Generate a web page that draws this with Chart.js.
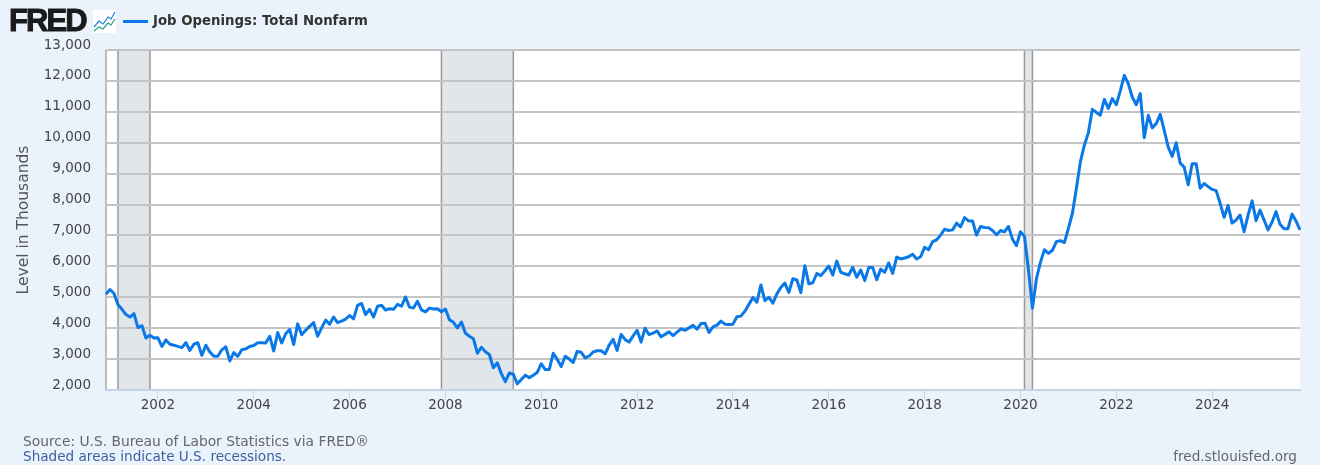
<!DOCTYPE html>
<html lang="en">
<head>
    <meta charset="UTF-8">
    <title>Job Openings: Total Nonfarm</title>
    <script src="https://cdn.jsdelivr.net/npm/chart.js"></script>
    <style>
        html, body { margin: 0; padding: 0; background: #eaf3fb; overflow: hidden; }
        #wrap { position: relative; width: 1320px; height: 465px; font-family: "DejaVu Sans", Verdana, sans-serif; }
        canvas { position: absolute; left: 0; top: 0; }
        .abs { position: absolute; white-space: nowrap; }
        #logo { left: 9px; top: 3px; font: bold 31px/36px "Liberation Sans", Arial, sans-serif; letter-spacing: -1.9px; color: #1a1a1a; -webkit-text-stroke: 1px #1a1a1a; }
        #icon { left: 93px; top: 10px; }
        #legendLine { left: 123px; top: 20px; width: 25px; height: 3px; background: #0a78e6; }
        #legendText { left: 153px; top: 13px; font-size: 13.3px; line-height: 16px; font-weight: bold; color: #333; }
        .foot { font-size: 13.8px; line-height: 16px; }
    </style>
</head>
<body>
<div id="wrap">
    <canvas id="chart" width="1320" height="465"></canvas>
    <div class="abs" id="logo">FRED</div>
    <svg class="abs" id="icon" width="23" height="23" viewBox="0 0 23 23">
        <rect width="23" height="23" fill="#fff"/>
        <polyline points="1,17 6,11 10,14 15,7 18,9 22,2" fill="none" stroke="#1a7fe0" stroke-width="1.2"/>
        <polyline points="1,21 6,17 10,19 15,13 18,15 22,9" fill="none" stroke="#1f9e86" stroke-width="1.2"/>
    </svg>
    <div class="abs" id="legendLine"></div>
    <div class="abs" id="legendText">Job Openings: Total Nonfarm</div>
    <div class="abs foot" style="left:23px;top:433px;color:#666">Source: U.S. Bureau of Labor Statistics via FRED®</div>
    <div class="abs foot" style="left:23px;top:448px;color:#3e5f9e;font-size:13.6px">Shaded areas indicate U.S. recessions.</div>
    <div class="abs foot" style="right:23px;top:448px;color:#666;font-size:13.6px">fred.stlouisfed.org</div>
</div>
<script>
    // monthly, Dec 2000 to Nov 2025
    const openings = [
        5100,
        5250, 5120, 4760, 4610, 4440, 4360, 4470, 4020, 4080, 3680, 3770, 3680,
        3690, 3410, 3620, 3480, 3450, 3410, 3370, 3530, 3280, 3480, 3530, 3120,
        3450, 3230, 3090, 3090, 3300, 3400, 2940, 3210, 3090, 3300, 3330, 3410,
        3440, 3530, 3530, 3520, 3740, 3260, 3860, 3520, 3820, 3960, 3470, 4140,
        3790, 3930, 4060, 4180, 3740, 4010, 4260, 4130, 4360, 4180, 4230, 4290,
        4410, 4300, 4740, 4800, 4440, 4610, 4360, 4710, 4740, 4590, 4630, 4610,
        4770, 4710, 5010, 4680, 4650, 4870, 4590, 4530, 4650, 4620, 4630, 4530,
        4620, 4270, 4190, 4010, 4200, 3840, 3740, 3660, 3190, 3380, 3240, 3150,
        2720, 2880, 2530, 2270, 2550, 2510, 2200, 2340, 2480, 2400, 2480, 2570,
        2850, 2660, 2660, 3190, 2990, 2760, 3090, 3000, 2890, 3250, 3220, 3040,
        3100, 3230, 3270, 3270, 3170, 3450, 3640, 3280, 3800, 3630, 3550, 3750,
        3930, 3550, 4000, 3790, 3840, 3910, 3720, 3800, 3880, 3760, 3870, 3980,
        3930, 4010, 4090, 3970, 4150, 4160, 3860, 4040, 4100, 4230, 4130, 4120,
        4130, 4370, 4390, 4550, 4770, 4990, 4840, 5400, 4890, 5000, 4810, 5110,
        5320, 5460, 5160, 5600, 5560, 5150, 6020, 5440, 5470, 5770, 5700, 5850,
        6010, 5720, 6170, 5810, 5760, 5720, 5970, 5650, 5880, 5540, 5960, 5960,
        5570, 5910, 5810, 6110, 5770, 6300, 6240, 6270, 6310, 6390, 6240, 6310,
        6620, 6540, 6800, 6860, 7010, 7200, 7160, 7180, 7400, 7280, 7580, 7470,
        7470, 7010, 7290, 7260, 7250, 7160, 7020, 7160, 7120, 7290, 6880, 6670,
        7120, 6970, 5900, 4650, 5600, 6130, 6540, 6420, 6520, 6800, 6830, 6770,
        7230, 7710, 8520, 9380, 9920, 10320, 11080, 10980, 10890, 11400, 11110, 11430,
        11230, 11680, 12180, 11910, 11480, 11230, 11590, 10160, 10890, 10480, 10620, 10920,
        10400, 9860, 9560, 10000, 9340, 9210, 8640, 9320, 9320, 8530, 8680, 8580,
        8490, 8450, 8040, 7590, 7970, 7400, 7500, 7660, 7120, 7660, 8120, 7480,
        7820, 7500, 7180, 7430, 7770, 7360, 7220, 7220, 7690, 7470, 7180
    ];
    const xTickYears = [2002, 2004, 2006, 2008, 2010, 2012, 2014, 2016, 2018, 2020, 2022, 2024];
    const yTickValues = [2000, 3000, 4000, 5000, 6000, 7000, 8000, 9000, 10000, 11000, 12000, 13000];
    const recessions = [['2001-03', '2001-11'], ['2007-12', '2009-06'], ['2020-02', '2020-04']];

    // month labels, one per value
    const months = [];
    for (let i = 0; i < openings.length; i++) {
        const m = 11 + i;
        const year = 2000 + Math.floor(m / 12);
        months.push(year + '-' + String(m % 12 + 1).padStart(2, '0'));
    }
    const xTickLabels = xTickYears.map(y => y + '-01');

    // white plot area and the recession bands, under the grid
    const plotBackground = {
        id: 'plotBackground',
        beforeDraw(chart) {
            const { ctx, chartArea: a, scales: { x } } = chart;
            ctx.save();
            ctx.fillStyle = '#ffffff';
            ctx.fillRect(a.left, a.top, a.right - a.left, a.bottom - a.top);
            recessions.forEach(([from, to]) => {
                const x0 = x.getPixelForValue(months.indexOf(from));
                const x1 = x.getPixelForValue(months.indexOf(to));
                ctx.fillStyle = '#e1e6ea';
                ctx.fillRect(x0, a.top, x1 - x0, a.bottom - a.top);
                ctx.strokeStyle = '#9a9a9a';
                ctx.lineWidth = 1.5;
                ctx.beginPath();
                ctx.moveTo(x0, a.top);
                ctx.lineTo(x0, a.bottom);
                ctx.moveTo(x1, a.top);
                ctx.lineTo(x1, a.bottom);
                ctx.stroke();
            });
            ctx.strokeStyle = '#a8a8a8';
            ctx.lineWidth = 1.5;
            ctx.beginPath();
            ctx.moveTo(a.left, a.top);
            ctx.lineTo(a.left, a.bottom);
            ctx.stroke();
            ctx.restore();
        }
    };

    new Chart(document.getElementById('chart'), {
        type: 'line',
        data: {
            labels: months,
            datasets: [{
                label: 'Job Openings: Total Nonfarm',
                data: openings,
                borderColor: '#0a78e6',
                borderWidth: 3,
                borderJoinStyle: 'round',
                pointRadius: 0,
                tension: 0,
                fill: false
            }]
        },
        plugins: [plotBackground],
        options: {
            responsive: false,
            animation: false,
            layout: { padding: { top: 50, right: 20, bottom: 0, left: 0 } },
            plugins: { legend: { display: false }, tooltip: { enabled: false } },
            scales: {
                x: {
                    type: 'category',
                    offset: false,
                    afterBuildTicks(scale) {
                        scale.ticks = xTickLabels.map(l => ({ value: months.indexOf(l) }));
                    },
                    afterFit(scale) { scale.height = 75; },
                    grid: { drawOnChartArea: false, drawTicks: true, tickLength: 10, tickColor: '#ccd6eb', tickWidth: 1 },
                    border: { color: '#c4d2e4', width: 2 },
                    ticks: {
                        autoSkip: false,
                        maxRotation: 0,
                        color: '#444',
                        padding: -3,
                        font: { family: '"DejaVu Sans", Verdana, sans-serif', size: 13.5 },
                        callback(value) { return this.getLabelForValue(value).slice(0, 4); }
                    }
                },
                y: {
                    min: 2000,
                    max: 13000,
                    afterBuildTicks(scale) {
                        scale.ticks = yTickValues.map(v => ({ value: v }));
                    },
                    afterFit(scale) { scale.width = 106; },
                    grid: { color: '#c4c4c4', lineWidth: 2, drawTicks: false },
                    border: { display: false },
                    title: {
                        display: true,
                        text: 'Level in Thousands',
                        color: '#555',
                        padding: { top: 15, bottom: 0 },
                        font: { family: '"DejaVu Sans", Verdana, sans-serif', size: 15.5 }
                    },
                    ticks: {
                        color: '#444',
                        padding: 15,
                        labelOffset: -5,
                        font: { family: '"DejaVu Sans", Verdana, sans-serif', size: 13.5 },
                        callback(value) { return value.toLocaleString('en-US'); }
                    }
                }
            }
        }
    });
</script>
</body>
</html>
